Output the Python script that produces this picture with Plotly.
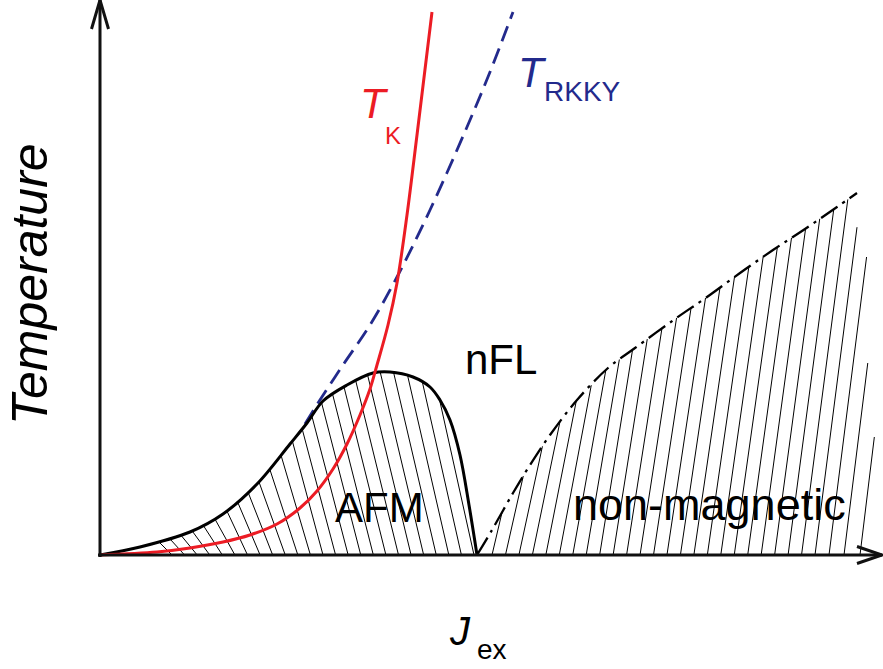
import numpy as np
import plotly.graph_objects as go

# ---------------- data (J_ex, Temperature) in arbitrary units ----------------
# AFM (Neel) dome boundary
afm_J = [0.00, 0.40, 0.90, 1.23, 1.57, 1.90, 2.07, 2.23, 2.47, 2.73, 2.90, 3.13, 3.30, 3.40, 3.50, 3.60, 3.69, 3.77]
afm_T = [0.00, 0.08, 0.23, 0.41, 0.71, 1.11, 1.32, 1.54, 1.70, 1.82, 1.83, 1.78, 1.68, 1.55, 1.35, 1.00, 0.50, 0.00]

# Kondo temperature T_K
tk_J = [0.00, 0.57, 0.90, 1.23, 1.50, 1.77, 2.00, 2.17, 2.33, 2.47, 2.60, 2.70, 2.77, 2.88, 2.97, 3.07, 3.17, 3.32]
tk_T = [0.00, 0.03, 0.07, 0.13, 0.20, 0.31, 0.47, 0.64, 0.86, 1.11, 1.40, 1.66, 1.90, 2.30, 2.72, 3.40, 4.20, 5.43]

# RKKY temperature T_RKKY (visible part)
rkky_J = [2.05, 2.18, 2.43, 2.70, 2.97, 3.30, 3.67, 3.90, 4.13]
rkky_T = [1.31, 1.52, 1.90, 2.30, 2.78, 3.45, 4.28, 4.83, 5.43]

# non-magnetic crossover boundary (dash-dot)
nm_J = [3.77, 3.92, 4.13, 4.30, 4.50, 4.77, 5.08, 5.35, 5.75, 6.07, 6.40, 6.73, 7.05, 7.37, 7.57]
nm_T = [0.00, 0.25, 0.62, 0.90, 1.20, 1.55, 1.87, 2.07, 2.36, 2.58, 2.82, 3.05, 3.26, 3.48, 3.62]

# ragged hatch strokes at the right end of the non-magnetic region
trail_J = [7.29, 7.44, 7.60]
trail_T = [2.98, 1.92, 1.18]

# region labels
labels = ["AFM", "nFL", "non-magnetic"]

# ---------------- frame ----------------
J_RANGE = [-1.00, 7.83]
T_RANGE = [-1.14, 5.55]
J_END = 7.82
T_END = 5.55

RED = "#ec1c24"
NAVY = "#232a8c"
FONT = "Liberation Sans"

fig = go.Figure()


def hatch_segments(bottoms, slopes, bJ, bT, direction):
    xs, ys = [], []
    Ts = np.linspace(0, 6, 6001)
    for jb, s in zip(bottoms, slopes):
        x = jb + direction * s * Ts
        c = np.interp(x, bJ, bT, left=0.0, right=0.0)
        hit = np.nonzero(Ts >= c)[0]
        k = hit[0] if len(hit) else len(Ts) - 1
        xs += [jb, x[k], None]
        ys += [0, Ts[k], None]
    return xs, ys


# AFM hatch: strokes lean up-left
afm_bot = np.linspace(0.72, 3.74, 25)
afm_s = np.interp(afm_bot, [0.72, 1.0, 1.5, 2.2, 3.8], [1.0, 0.8, 0.45, 0.27, 0.22])
hx1, hy1 = hatch_segments(afm_bot, afm_s, afm_J, afm_T, -1)

# non-magnetic hatch: strokes lean up-right
nm_bot = np.linspace(3.92, 7.15, 25)
nm_s_fn = lambda j: np.interp(j, [3.85, 5.0, 7.7], [0.24, 0.16, 0.12])
hx2, hy2 = hatch_segments(nm_bot, nm_s_fn(nm_bot), nm_J, nm_T, +1)
for j, t in zip(trail_J, trail_T):
    s = float(nm_s_fn(j))
    hx2 += [j, j + s * t, None]
    hy2 += [0, t, None]

for hx, hy in [(hx1, hy1), (hx2, hy2)]:
    fig.add_trace(go.Scatter(x=hx, y=hy, mode="lines",
                             line=dict(color="black", width=1), hoverinfo="skip"))

fig.add_trace(go.Scatter(x=rkky_J, y=rkky_T, mode="lines",
                         line=dict(color=NAVY, width=2.8, dash="16px,8px", shape="spline")))
fig.add_trace(go.Scatter(x=afm_J, y=afm_T, mode="lines",
                         line=dict(color="black", width=3, shape="spline")))
fig.add_trace(go.Scatter(x=tk_J, y=tk_T, mode="lines",
                         line=dict(color=RED, width=3, shape="spline")))
fig.add_trace(go.Scatter(x=nm_J, y=nm_T, mode="lines",
                         line=dict(color="black", width=2.3, dash="20px,6px,3px,6px",
                                   shape="spline")))

# ---------------- axes with open arrow heads ----------------
ah_len, ah_w = 0.25, 0.085
fig.add_shape(type="line", x0=-0.02, y0=0, x1=J_END, y1=0, xref="x", yref="y",
              line=dict(color="#111", width=3))
fig.add_shape(type="line", x0=0, y0=-0.02, x1=0, y1=T_END, xref="x", yref="y",
              line=dict(color="#111", width=3))
fig.add_shape(type="path", xref="x", yref="y",
              path=f"M {J_END-ah_len},{ah_w} L {J_END},0 L {J_END-ah_len},{-ah_w}",
              line=dict(color="#111", width=3))
fig.add_shape(type="path", xref="x", yref="y",
              path=f"M {-ah_w},{T_END-0.29} L 0,{T_END} L {ah_w},{T_END-0.29}",
              line=dict(color="#111", width=3))


def txt(x, y, s, size, color="black", italic=False, angle=0):
    fig.add_annotation(x=x, y=y, xref="x", yref="y", text=s, showarrow=False,
                       textangle=angle, xanchor="center", yanchor="middle",
                       font=dict(family=FONT, size=size, color=color,
                                 style="italic" if italic else "normal"))


txt(2.74, 4.52, "T", 42, RED, True)
txt(2.93, 4.20, "K", 24, RED)
txt(4.32, 4.83, "T", 42, NAVY, True)
txt(4.82, 4.64, "RKKY", 28, NAVY)
txt(2.79, 0.48, labels[0], 42)
txt(4.01, 1.96, labels[1], 42)
txt(6.09, 0.51, labels[2], 45)
txt(3.60, -0.76, "J", 40, "black", True)
txt(3.92, -0.94, "ex", 28)
txt(-0.70, 2.71, "Temperature", 50, "black", True, -90)

fig.update_layout(
    width=883, height=669, margin=dict(l=0, r=0, t=0, b=0),
    paper_bgcolor="white", plot_bgcolor="white", showlegend=False,
    xaxis=dict(range=J_RANGE, visible=False, fixedrange=True),
    yaxis=dict(range=T_RANGE, visible=False, fixedrange=True),
)

fig.write_html("out.html")
